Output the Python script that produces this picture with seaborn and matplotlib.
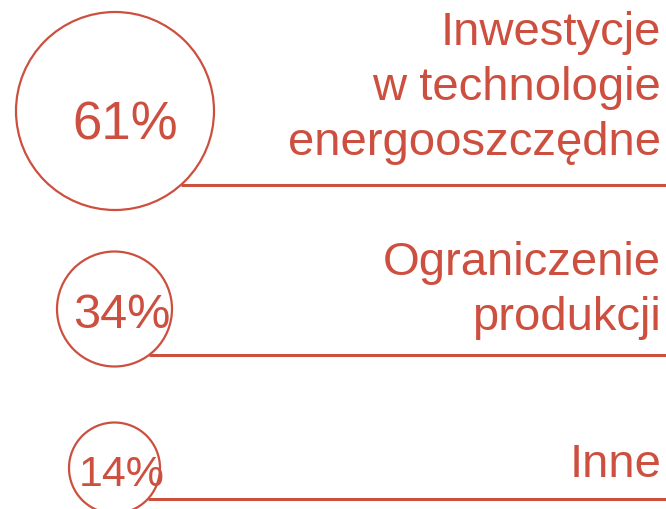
import numpy as np
import pandas as pd
import seaborn as sns
import matplotlib.pyplot as plt


OUTPUT_PATH = "out.png"
COLOR = "#CD4F3F"

CATEGORIES = ["Inwestycje\nw technologie\nenergooszczędne", "Ograniczenie\nprodukcji", "Inne"]
VALUES = [61, 34, 14]
VALUE_LABELS = ["61%", "34%", "14%"]


def main() -> None:
    df = pd.DataFrame({"category": CATEGORIES, "value": VALUES, "label": VALUE_LABELS})

    # layout in pixel units (axes spans the whole 666x509 canvas)
    df["cx"] = [115, 114.5, 114.5]
    df["cy"] = [111, 309, 468]
    df["radius"] = [99, 57.5, 45.5]
    df["line_y"] = [185, 355, 499]
    df["text_base"] = [155, 330, 477]
    df["pct_x"] = [125, 122, 122]
    df["pct_base"] = [140, 328, 486]
    df["pct_size"] = [38, 35, 31]

    dpi = 100
    sns.set_theme(style="white")
    plt.rcParams["font.family"] = ["Liberation Sans", "DejaVu Sans"]

    fig = plt.figure(figsize=(6.66, 5.09), dpi=dpi)
    ax = fig.add_axes([0, 0, 1, 1])
    ax.set_xlim(0, 666)
    ax.set_ylim(509, 0)
    ax.set_axis_off()

    # marker area in points^2 from pixel radius
    size_map = {
        v: (2 * r * 72 / dpi) ** 2 for v, r in zip(df["value"], df["radius"])
    }
    sns.scatterplot(
        data=df,
        x="cx",
        y="cy",
        size="value",
        sizes=size_map,
        facecolor="none",
        edgecolor=COLOR,
        linewidth=1.6,
        legend=False,
        ax=ax,
        clip_on=False,
    )

    for _, row in df.iterrows():
        dy = row["line_y"] - row["cy"]
        x_start = row["cx"] + np.sqrt(max(row["radius"] ** 2 - dy ** 2, 0))
        ax.plot([x_start, 666], [row["line_y"]] * 2, color=COLOR, lw=2.2,
                solid_capstyle="butt")
        ax.text(661, row["text_base"], row["category"], ha="right", va="baseline",
                fontsize=34, color=COLOR, linespacing=1.32, multialignment="right")
        ax.text(row["pct_x"], row["pct_base"], row["label"], ha="center",
                va="baseline", fontsize=row["pct_size"], color=COLOR)

    fig.savefig(OUTPUT_PATH, dpi=dpi)
    plt.close(fig)


if __name__ == "__main__":
    main()
